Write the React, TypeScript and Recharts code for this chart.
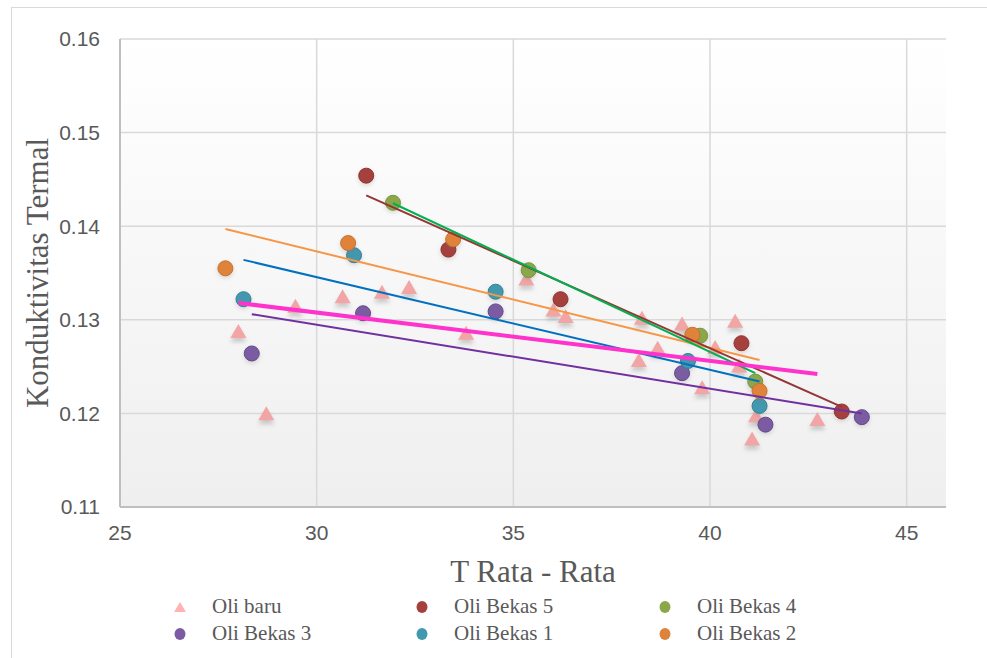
import React from 'react';
import { ScatterChart, Scatter, XAxis, YAxis, CartesianGrid } from 'recharts';

// ---- data ----
const oliBaru = [
  { x: 28.01, y: 0.1287 }, { x: 28.72, y: 0.1199 }, { x: 29.46, y: 0.1314 },
  { x: 30.66, y: 0.1324 }, { x: 31.66, y: 0.1329 }, { x: 32.35, y: 0.1334 },
  { x: 33.8, y: 0.1285 }, { x: 35.33, y: 0.1343 }, { x: 36.02, y: 0.131 },
  { x: 36.33, y: 0.1303 }, { x: 38.19, y: 0.1256 }, { x: 38.27, y: 0.1301 },
  { x: 38.67, y: 0.1269 }, { x: 39.29, y: 0.1295 }, { x: 39.8, y: 0.1227 },
  { x: 40.13, y: 0.127 }, { x: 40.64, y: 0.1298 }, { x: 40.74, y: 0.125 },
  { x: 41.17, y: 0.1197 }, { x: 41.07, y: 0.1172 }, { x: 42.73, y: 0.1193 },
];
const oliBekas5 = [
  { x: 31.26, y: 0.1454 }, { x: 33.35, y: 0.1375 }, { x: 36.2, y: 0.1322 },
  { x: 40.8, y: 0.1275 }, { x: 43.35, y: 0.1202 },
];
const oliBekas4 = [
  { x: 31.94, y: 0.1425 }, { x: 35.39, y: 0.1353 }, { x: 39.75, y: 0.1283 },
  { x: 41.15, y: 0.1234 },
];
const oliBekas3 = [
  { x: 28.35, y: 0.1264 }, { x: 31.18, y: 0.1307 }, { x: 34.55, y: 0.1309 },
  { x: 39.29, y: 0.1243 }, { x: 41.41, y: 0.1188 }, { x: 43.86, y: 0.1196 },
];
const oliBekas1 = [
  { x: 28.14, y: 0.1322 }, { x: 30.95, y: 0.1369 }, { x: 34.55, y: 0.133 },
  { x: 39.44, y: 0.1256 }, { x: 41.26, y: 0.1208 },
];
const oliBekas2 = [
  { x: 27.68, y: 0.1355 }, { x: 30.8, y: 0.1382 }, { x: 33.47, y: 0.1386 },
  { x: 39.55, y: 0.1284 }, { x: 41.26, y: 0.1224 },
];

// linear trendline end points
const trendOliBaru = [{ x: 28.01, y: 0.1318 }, { x: 42.73, y: 0.1242 }];
const trendBekas5 = [{ x: 31.26, y: 0.1433 }, { x: 43.35, y: 0.1207 }];
const trendBekas4 = [{ x: 31.94, y: 0.14245 }, { x: 41.15, y: 0.1243 }];
const trendBekas3 = [{ x: 28.35, y: 0.1306 }, { x: 43.86, y: 0.12 }];
const trendBekas1 = [{ x: 28.14, y: 0.1364 }, { x: 41.26, y: 0.1234 }];
const trendBekas2 = [{ x: 27.68, y: 0.1397 }, { x: 41.26, y: 0.1257 }];

const xTicks = [25, 30, 35, 40, 45];
const yTicks = [0.11, 0.12, 0.13, 0.14, 0.15, 0.16];

const legendItems = [
  { name: 'Oli baru', color: '#FFB3B3', kind: 'triangle' },
  { name: 'Oli Bekas 5', color: '#A5403D', kind: 'circle' },
  { name: 'Oli Bekas 4', color: '#8CA74A', kind: 'circle' },
  { name: 'Oli Bekas 3', color: '#7B5CA3', kind: 'circle' },
  { name: 'Oli Bekas 1', color: '#4198AF', kind: 'circle' },
  { name: 'Oli Bekas 2', color: '#E0833A', kind: 'circle' },
];

const TEXT = '#595959';
const TICK_FONT = '"Liberation Sans Narrow", "Liberation Sans", sans-serif';
const SERIF = '"Liberation Serif", "Times New Roman", serif';

const Triangle = (props: any) => {
  const { cx, cy } = props;
  if (cx == null || cy == null) return <g />;
  const pts = `${cx},${cy - 8} ${cx - 8},${cy + 6} ${cx + 8},${cy + 6}`;
  return (
    <g>
      <polygon points={pts} fill="#888" opacity={0.4} transform="translate(0,4)" filter="url(#softShadow)" />
      <polygon points={pts} fill="#F2A5A5" />
    </g>
  );
};

const makeCircle = (fill: string, stroke: string) => (props: any) => {
  const { cx, cy } = props;
  if (cx == null || cy == null) return <g />;
  return (
    <g>
      <circle cx={cx} cy={cy + 2} r={8} fill="#777" opacity={0.25} filter="url(#softShadow)" />
      <circle cx={cx} cy={cy} r={7.5} fill={fill} stroke={stroke} strokeWidth={1} />
    </g>
  );
};

const NoShape = () => <g />;

const YTitle = (props: any) => {
  const vb = props.viewBox || { x: 0, y: 39, width: 120, height: 468 };
  const x = vb.x + 37;
  const y = vb.y + vb.height / 2;
  return (
    <text x={x} y={y} transform={`rotate(-90, ${x}, ${y})`} textAnchor="middle" dominantBaseline="central"
      fill={TEXT} fontFamily={SERIF} fontSize={31}>
      Konduktivitas Termal
    </text>
  );
};

const XTitle = (props: any) => {
  const vb = props.viewBox || { x: 120, y: 507, width: 826, height: 151 };
  const x = vb.x + vb.width / 2;
  const y = vb.y + 64;
  return (
    <text x={x} y={y} textAnchor="middle" dominantBaseline="central" fill={TEXT} fontFamily={SERIF} fontSize={31}>
      T Rata - Rata
    </text>
  );
};

export default function App() {
  return (
    <div style={{ position: 'absolute', left: 0, top: 0, width: 987, height: 658, overflow: 'hidden', background: '#fff' }}>
      <div style={{ position: 'absolute', left: 11, top: 7, width: 1000, height: 700, border: '1px solid #D9D9D9', boxSizing: 'border-box' }} />
      <div style={{ position: 'absolute', left: 0, top: 0 }}>
        <ScatterChart width={987} height={658} margin={{ top: 39, right: 41, bottom: 0, left: 0 }}>
          <defs>
            <linearGradient id="plotBg" x1="0" y1="0" x2="0" y2="1">
              <stop offset="0%" stopColor="#FFFFFF" />
              <stop offset="100%" stopColor="#EFEFEF" />
            </linearGradient>
            <filter id="softShadow" x="-50%" y="-50%" width="200%" height="200%">
              <feGaussianBlur stdDeviation="2" />
            </filter>
          </defs>
          <CartesianGrid stroke="#D9D9D9" strokeWidth={1.5} fill="url(#plotBg)" fillOpacity={1}
            horizontalValues={yTicks} verticalValues={xTicks} />
          <XAxis type="number" dataKey="x" domain={[25, 46]} ticks={xTicks} allowDataOverflow
            height={151} tickLine={false} tickMargin={12}
            axisLine={{ stroke: '#BFBFBF', strokeWidth: 2 }}
            tick={{ fill: TEXT, fontSize: 21, fontFamily: TICK_FONT }}
            label={{ content: XTitle }} />
          <YAxis type="number" dataKey="y" domain={[0.11, 0.16]} ticks={yTicks} allowDataOverflow
            width={120} tickLine={false} tickMargin={14}
            axisLine={{ stroke: '#BFBFBF', strokeWidth: 2 }}
            tickFormatter={(v: number) => v.toFixed(2)}
            tick={{ fill: TEXT, fontSize: 21, fontFamily: TICK_FONT }}
            label={{ content: YTitle }} />

          <Scatter name="Oli baru" data={oliBaru} shape={Triangle} isAnimationActive={false} />
          <Scatter name="Oli Bekas 5" data={oliBekas5} shape={makeCircle('#A5403D', '#8E3431')} isAnimationActive={false} />
          <Scatter name="Oli Bekas 4" data={oliBekas4} shape={makeCircle('#8CA74A', '#7A9440')} isAnimationActive={false} />
          <Scatter name="Oli Bekas 3" data={oliBekas3} shape={makeCircle('#7B5CA3', '#624A88')} isAnimationActive={false} />
          <Scatter name="Oli Bekas 1" data={oliBekas1} shape={makeCircle('#4198AF', '#357F93')} isAnimationActive={false} />
          <Scatter name="Oli Bekas 2" data={oliBekas2} shape={makeCircle('#E0833A', '#C8712F')} isAnimationActive={false} />

          <Scatter data={trendBekas2} line={{ stroke: '#F79646', strokeWidth: 2 }} shape={NoShape} isAnimationActive={false} legendType="none" />
          <Scatter data={trendBekas1} line={{ stroke: '#0070C0', strokeWidth: 2 }} shape={NoShape} isAnimationActive={false} legendType="none" />
          <Scatter data={trendBekas3} line={{ stroke: '#7030A0', strokeWidth: 2 }} shape={NoShape} isAnimationActive={false} legendType="none" />
          <Scatter data={trendBekas5} line={{ stroke: '#943634', strokeWidth: 2 }} shape={NoShape} isAnimationActive={false} legendType="none" />
          <Scatter data={trendBekas4} line={{ stroke: '#00B050', strokeWidth: 2 }} shape={NoShape} isAnimationActive={false} legendType="none" />
          <Scatter data={trendOliBaru} line={{ stroke: '#FF33CC', strokeWidth: 4 }} shape={NoShape} isAnimationActive={false} legendType="none" />
        </ScatterChart>
      </div>
      {/* legend */}
      <div style={{ position: 'absolute', left: 170, top: 593, width: 740, display: 'grid', gridTemplateColumns: '242px 243px 240px', rowGap: 0 }}>
        {legendItems.map((it) => (
          <div key={it.name} style={{ display: 'flex', alignItems: 'center', height: 27 }}>
            <svg width={20} height={20} style={{ flex: '0 0 20px' }}>
              {it.kind === 'triangle'
                ? <polygon points="10,5 4,15 16,15" fill={it.color} />
                : <ellipse cx={10} cy={10} rx={5.5} ry={6} fill={it.color} />}
            </svg>
            <span style={{ marginLeft: 22, fontFamily: SERIF, fontSize: 21, color: TEXT, lineHeight: '27px', whiteSpace: 'nowrap' }}>{it.name}</span>
          </div>
        ))}
      </div>
    </div>
  );
}
